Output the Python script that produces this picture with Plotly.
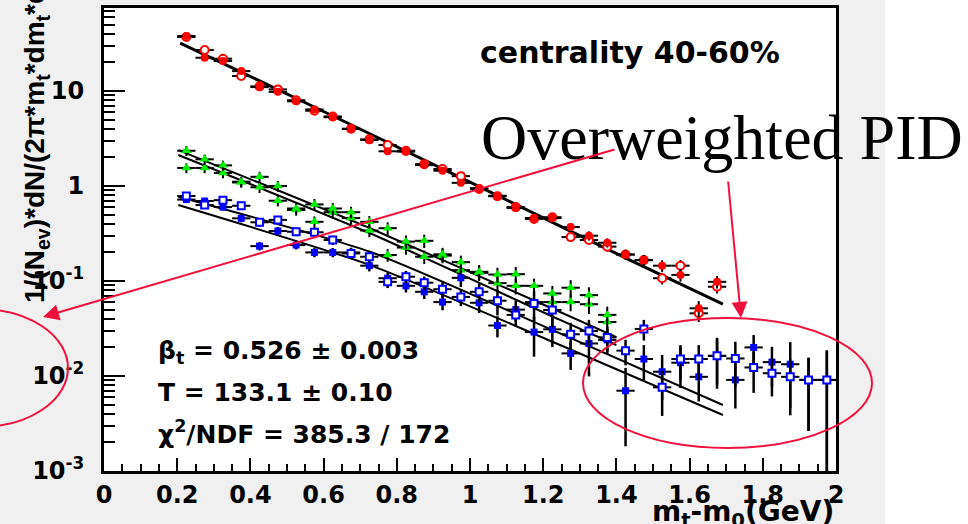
import plotly.graph_objects as go

# ---------------- data ----------------
x_red = [0.225, 0.275, 0.325, 0.375, 0.425, 0.475, 0.525, 0.575, 0.625, 0.675,
         0.725, 0.775, 0.825, 0.875, 0.925, 0.975, 1.025, 1.075, 1.125, 1.175,
         1.225, 1.275, 1.325, 1.375, 1.425, 1.475, 1.525, 1.575, 1.625, 1.675]
red_filled = [38.0, 22.4, 20.7, 16.2, 11.0, 9.8, 7.8, 6.4, 5.3, 4.0,
              3.05, 2.32, 2.30, 1.66, 1.45, 1.08, 0.95, 0.79, 0.586, 0.46,
              0.46, 0.37, 0.30, 0.253, 0.19, 0.166, 0.145, 0.116, 0.0516, 0.098]
red_open = [37.0, 27.0, 21.9, 14.4, 11.2, 10.4, 8.0, 6.2, 5.4, 4.0,
            3.1, 2.70, 2.35, 1.70, 1.51, 1.27, 0.93, 0.78, 0.60, 0.45,
            0.47, 0.29, 0.27, 0.23, 0.19, 0.166, 0.107, 0.145, 0.0457, 0.087]
red_relerr = [0.04, 0.05, 0.05, 0.05, 0.05, 0.05, 0.05, 0.05, 0.06, 0.06,
              0.06, 0.06, 0.07, 0.07, 0.07, 0.08, 0.08, 0.08, 0.09, 0.09,
              0.10, 0.10, 0.11, 0.11, 0.12, 0.13, 0.14, 0.15, 0.19, 0.15]

x_green = [0.225, 0.275, 0.325, 0.375, 0.425, 0.475, 0.525, 0.575, 0.625, 0.675,
           0.725, 0.775, 0.825, 0.875, 0.925, 0.975, 1.025, 1.075, 1.125, 1.175,
           1.225, 1.275, 1.325, 1.375]
green_a = [2.35, 1.91, 1.65, 1.11, 1.25, 1.00, 0.58, 0.64, 0.58, 0.53,
           0.42, 0.36, 0.26, 0.265, 0.191, 0.158, 0.125, 0.117, 0.118, 0.089,
           0.074, 0.085, 0.071, 0.044]
green_b = [1.55, 1.55, 1.37, 1.09, 0.97, 0.70, 0.56, 0.42, 0.53, 0.46,
           0.34, 0.188, 0.225, 0.18, 0.185, 0.13, 0.122, 0.095, 0.089, 0.060,
           0.060, 0.060, 0.057, 0.037]
green_relerr = [0.12, 0.12, 0.12, 0.12, 0.13, 0.13, 0.13, 0.14, 0.14, 0.14,
                0.15, 0.15, 0.16, 0.16, 0.17, 0.17, 0.18, 0.18, 0.19, 0.19,
                0.20, 0.20, 0.21, 0.22]

x_blue = [0.225, 0.275, 0.325, 0.375, 0.425, 0.475, 0.525, 0.575, 0.625, 0.675,
          0.725, 0.775, 0.825, 0.875, 0.925, 0.975, 1.025, 1.075, 1.125, 1.175,
          1.225, 1.275, 1.325, 1.375, 1.425, 1.475, 1.525, 1.575, 1.625, 1.675,
          1.725, 1.775, 1.825, 1.875, 1.925, 1.975]
blue_filled = [0.72, 0.695, 0.60, 0.457, 0.233, 0.336, 0.239, 0.20, 0.20, 0.20,
               0.145, 0.107, 0.089, 0.077, 0.060, 0.108, 0.059, 0.034, 0.050, 0.029,
               0.031, 0.0173, 0.022, 0.024, 0.0070, 0.0151, 0.0111, 0.0138, 0.0098, 0.0163,
               0.0091, 0.020, 0.014, 0.0133, 0.0091, 0.0091]
blue_open = [0.785, 0.63, 0.71, 0.62, 0.415, 0.44, 0.33, 0.326, 0.27, 0.195,
             0.18, 0.098, 0.111, 0.096, 0.082, 0.068, 0.077, 0.062, 0.044, 0.058,
             0.0496, 0.0275, 0.0298, 0.0255, 0.0185, 0.0313, 0.0076, 0.0151, 0.0151, 0.0163,
             0.0153, 0.0123, 0.0107, 0.0098, 0.0091, 0.0091]
blue_filled_relerr = [0.08, 0.08, 0.08, 0.09, 0.10, 0.10, 0.10, 0.11, 0.11, 0.12,
                      0.13, 0.14, 0.15, 0.16, 0.18, 0.20, 0.22, 0.25, 0.25, 0.45,
                      0.35, 0.33, 0.55, 0.30, 0.74, 0.40, 0.50, 0.46, 0.45, 0.50,
                      0.50, 0.35, 0.45, 0.71, 0.71, 1.04]
blue_open_relerr = [0.08, 0.08, 0.08, 0.09, 0.10, 0.10, 0.10, 0.11, 0.11, 0.12,
                    0.13, 0.14, 0.15, 0.16, 0.18, 0.20, 0.22, 0.30, 0.25, 0.35,
                    0.35, 0.32, 0.31, 0.30, 0.30, 0.245, 0.50, 0.40, 0.40, 0.55,
                    0.50, 0.46, 0.43, 0.53, 0.71, 1.04]
bin_half_width = 0.025

# fit curves
fit_red_x = [0.208, 0.536, 1.0, 1.437, 1.691]
fit_red_y = [32.0, 8.0, 1.10, 0.166, 0.057]
fit_g1_x = [0.203, 0.727, 1.246, 1.400]
fit_g1_y = [2.39, 0.359, 0.0472, 0.0257]
fit_g2_x = [0.203, 0.727, 1.246, 1.400]
fit_g2_y = [2.12, 0.318, 0.0389, 0.0212]
fit_b1_x = [0.203, 0.727, 1.246, 1.691]
fit_b1_y = [0.771, 0.203, 0.0281, 0.00495]
fit_b2_x = [0.203, 0.727, 1.246, 1.691]
fit_b2_y = [0.631, 0.147, 0.0212, 0.00389]

x_ticks = [0, 0.2, 0.4, 0.6, 0.8, 1.0, 1.2, 1.4, 1.6, 1.8, 2.0]
x_ticktext = ["0", "0.2", "0.4", "0.6", "0.8", "1", "1.2", "1.4", "1.6", "1.8", "2"]
y_ticks = [0.001, 0.01, 0.1, 1, 10]
y_ticktext = ["10<sup>-3</sup>", "10<sup>-2</sup>", "10<sup>-1</sup>", "1", "10"]
y_minor = [m * d for d in (0.001, 0.01, 0.1, 1, 10) for m in range(2, 10)]

# ---------------- layout helpers ----------------
W, H = 968, 524
L, R, T, B = 104, 836, 8, 471


def px(x):
    return (x - L) / (R - L)


def py(y):
    return (B - y) / (B - T)


ROOT_FONT = "DejaVu Sans"
RED_ANN = "#f0103c"

fig = go.Figure()


def fit_line(xs, ys, w):
    fig.add_trace(go.Scatter(x=xs, y=ys, mode="lines",
                             line=dict(color="black", width=w, shape="spline", smoothing=0.6),
                             hoverinfo="skip", showlegend=False))


fit_line(fit_red_x, fit_red_y, 3)
fit_line(fit_g1_x, fit_g1_y, 2)
fit_line(fit_g2_x, fit_g2_y, 2)
fit_line(fit_b1_x, fit_b1_y, 2)
fit_line(fit_b2_x, fit_b2_y, 2)


def data_trace(xs, ys, rel, symbol, color, size, hollow=False, thick=2):
    err = [y * r for y, r in zip(ys, rel)]
    if hollow:
        marker = dict(symbol=symbol, color="white", size=size, line=dict(color=color, width=2))
    else:
        marker = dict(symbol=symbol, color=color, size=size, line=dict(width=0))
    fig.add_trace(go.Scatter(
        x=xs, y=ys, mode="markers", marker=marker,
        error_y=dict(type="data", array=err, symmetric=True, color="black", thickness=thick, width=0),
        error_x=dict(type="constant", value=bin_half_width, color="black", thickness=2, width=0),
        showlegend=False))


data_trace(x_green, green_b, green_relerr, "triangle-up", "#00ee00", 9)
data_trace(x_green, green_a, green_relerr, "triangle-up", "#00ee00", 9)
data_trace(x_blue, blue_filled, blue_filled_relerr, "square", "#0000ff", 7, thick=2.5)
data_trace(x_blue, blue_open, blue_open_relerr, "square", "#0000ff", 7, hollow=True, thick=2.5)
data_trace(x_red, red_open, red_relerr, "circle", "#ff0000", 8, hollow=True)
data_trace(x_red, red_filled, red_relerr, "circle", "#ff0000", 8)

ann = []
ann.append(dict(text="<b>centrality 40-60%</b>", x=px(630), y=py(52), xref="paper", yref="paper",
                xanchor="center", yanchor="middle", showarrow=False,
                font=dict(family=ROOT_FONT, size=30, color="black")))
stats = ["<b>β<sub>t</sub> = 0.526 ± 0.003</b>", "<b>T = 133.1 ± 0.10</b>",
         "<b>χ<sup>2</sup>/NDF = 385.3 / 172</b>"]
for s, yy in zip(stats, [352, 392, 432]):
    ann.append(dict(text=s, x=px(156), y=py(yy), xref="paper", yref="paper",
                    xanchor="left", yanchor="middle", showarrow=False,
                    font=dict(family=ROOT_FONT, size=25, color="black")))
ann.append(dict(text="Overweighted PID", x=px(479), y=py(137), xref="paper", yref="paper",
                xanchor="left", yanchor="middle", showarrow=False,
                font=dict(family="Liberation Serif", size=64, color="black")))
ann.append(dict(text="<b>m<sub>t</sub>-m<sub>0</sub>(GeV)</b>", x=px(836), y=py(513), xref="paper", yref="paper",
                xanchor="right", yanchor="middle", showarrow=False,
                font=dict(family=ROOT_FONT, size=28, color="black")))
ann.append(dict(text="<b>1/(N<sub>ev</sub>)*dN/(2π*m<sub>t</sub>*dm<sub>t</sub>*dy)</b>",
                x=px(36), y=py(133), xref="paper", yref="paper", textangle=-90,
                xanchor="center", yanchor="middle", showarrow=False,
                font=dict(family="Liberation Sans", size=28, color="black")))
# red arrows
ann.append(dict(text="", x=px(43), y=py(317), xref="paper", yref="paper",
                ax=616 - 43, ay=149 - 317, showarrow=True, arrowhead=2, arrowsize=1.6,
                arrowwidth=2, arrowcolor=RED_ANN))
ann.append(dict(text="", x=px(741), y=py(318), xref="paper", yref="paper",
                ax=728 - 741, ay=180 - 318, showarrow=True, arrowhead=2, arrowsize=1.6,
                arrowwidth=2, arrowcolor=RED_ANN))

shapes = [
    dict(type="rect", xref="paper", yref="paper", x0=px(885), x1=px(W + 5), y0=py(H + 5), y1=py(-5),
         fillcolor="white", line=dict(width=0), layer="below"),
    dict(type="circle", xref="paper", yref="paper", x0=px(583), x1=px(872), y0=py(448), y1=py(318),
         line=dict(color=RED_ANN, width=2)),
    dict(type="circle", xref="paper", yref="paper", x0=px(-108), x1=px(68), y0=py(427), y1=py(309),
         line=dict(color=RED_ANN, width=2)),
]

fig.update_layout(
    width=W, height=H,
    margin=dict(l=L, r=W - R, t=T, b=H - B, pad=0, autoexpand=False),
    paper_bgcolor="#f0f0f0", plot_bgcolor="white",
    annotations=ann, shapes=shapes, showlegend=False,
    xaxis=dict(range=[0, 2.0], tickmode="array", tickvals=x_ticks, ticktext=x_ticktext,
               ticks="inside", ticklen=13, tickwidth=2, tickcolor="black",
               minor=dict(dtick=0.05, tick0=0, ticks="inside", ticklen=7, tickwidth=2, tickcolor="black"),
               showline=True, linewidth=3, linecolor="black", mirror=True,
               showgrid=False, zeroline=False, automargin=False, ticklabelstandoff=0,
               tickfont=dict(family=ROOT_FONT, size=24, color="black", weight="bold")),
    yaxis=dict(type="log", range=[-3, 1.874], tickmode="array", tickvals=y_ticks, ticktext=y_ticktext,
               ticks="inside", ticklen=21, tickwidth=2, tickcolor="black",
               minor=dict(tickmode="array", tickvals=y_minor, ticks="inside", ticklen=11, tickwidth=2,
                          tickcolor="black"),
               showline=True, linewidth=3, linecolor="black", mirror=True,
               showgrid=False, zeroline=False, automargin=False, ticklabelstandoff=12,
               tickfont=dict(family=ROOT_FONT, size=24, color="black", weight="bold")),
)

fig.write_html("out.html")
